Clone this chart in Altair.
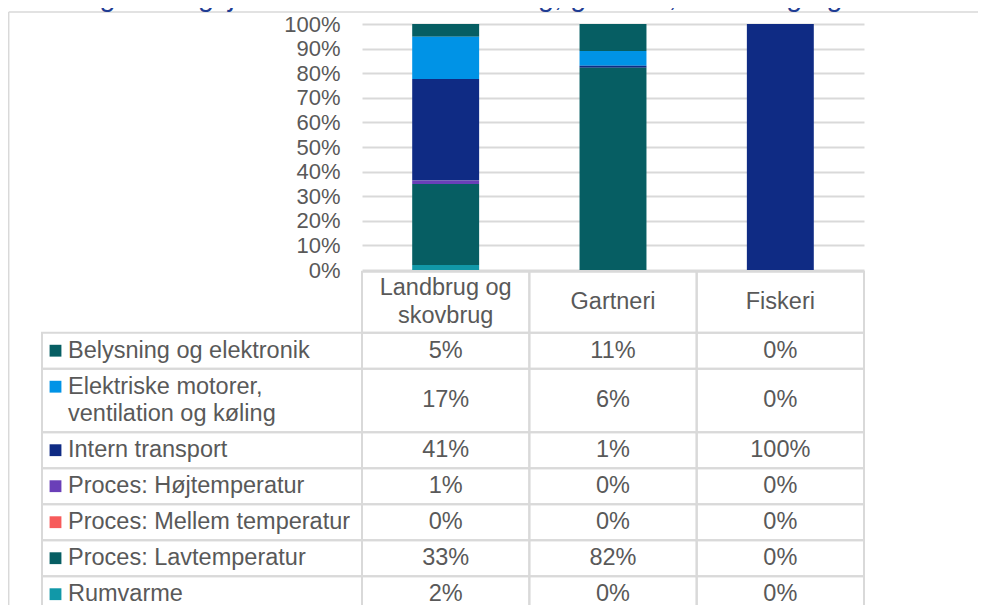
import altair as alt
import pandas as pd

# ---------------- data ----------------
categories = ["Landbrug og skovbrug", "Gartneri", "Fiskeri"]
header_lines = [["Landbrug og", "skovbrug"], ["Gartneri"], ["Fiskeri"]]

series = [
    "Belysning og elektronik",
    "Elektriske motorer, ventilation og køling",
    "Intern transport",
    "Proces: Højtemperatur",
    "Proces: Mellem temperatur",
    "Proces: Lavtemperatur",
    "Rumvarme",
]
series_lines = [
    ["Belysning og elektronik"],
    ["\u00a0Elektriske motorer,", "ventilation og køling"],
    ["Intern transport"],
    ["Proces: Højtemperatur"],
    ["Proces: Mellem temperatur"],
    ["Proces: Lavtemperatur"],
    ["Rumvarme"],
]
series_colors = ["#065e63", "#0093e6", "#0f2b84", "#6a3fb8", "#f75b5b", "#065e63", "#1198a8"]

# shares in percent, in series order
landbrug = [5.2, 17.2, 41.2, 1.4, 0.0, 33.0, 2.0]
gartneri = [11.0, 6.0, 0.8, 0.0, 0.0, 82.2, 0.0]
fiskeri = [0.0, 0.0, 100.0, 0.0, 0.0, 0.0, 0.0]

y_ticks = [0, 10, 20, 30, 40, 50, 60, 70, 80, 90, 100]
title_text = "forskellige energitjenester i 2020 i landbrug, gartneri, skovbrug og fiskeri"

values_by_category = dict(zip(categories, [landbrug, gartneri, fiskeri]))

# ---------------- style ----------------
FONT = "Liberation Sans"
TEXT_COLOR = "#595959"
LINE_COLOR = "#d9d9d9"
PLOT_W = 502
PLOT_H = 581
BAR_H = 246
TABLE_TOP = 247.7
HEADER_H = 61
LINE_H = 27.5
ROW_PAD = 8.5
LABEL_COL_W = 320
TEXT_SIZE = 23.5

# ---------------- tables for the marks ----------------
bar_rows = []
for cat in categories:
    for i, s in enumerate(series):
        bar_rows.append({"category": cat, "series": s,
                         "value": values_by_category[cat][i],
                         "stack_order": len(series) - i})
bar_df = pd.DataFrame(bar_rows)

row_bounds = []
top = HEADER_H
for lines in series_lines:
    h = ROW_PAD + LINE_H * len(lines)
    row_bounds.append((top, top + h))
    top += h
TOTAL = top

data_cells, label_cells, header_text, value_text, label_text, squares = [], [], [], [], [], []
for cat, lines in zip(categories, header_lines):
    data_cells.append({"category": cat, "top": 0, "bottom": HEADER_H})
    n = len(lines)
    for j, ln in enumerate(lines):
        header_text.append({"category": cat, "y": HEADER_H / 2 + (j - (n - 1) / 2) * LINE_H, "text": ln})

for i, (s, lines) in enumerate(zip(series, series_lines)):
    t, b = row_bounds[i]
    label_cells.append({"top": t, "bottom": b})
    for cat in categories:
        data_cells.append({"category": cat, "top": t, "bottom": b})
        value_text.append({"category": cat, "y": (t + b) / 2,
                           "text": f"{round(values_by_category[cat][i])}%"})
    for j, ln in enumerate(lines):
        label_text.append({"y": t + ROW_PAD / 2 + LINE_H * (j + 0.5), "text": ln})
    squares.append({"series": s, "y": t + ROW_PAD / 2 + LINE_H * 0.5})

x_scale = alt.Scale(domain=categories, paddingInner=0, paddingOuter=0)
color_scale = alt.Scale(domain=series, range=series_colors)
table_y = alt.Scale(domain=[0, TOTAL], range=[TABLE_TOP, TABLE_TOP + TOTAL])

bars = alt.Chart(bar_df).mark_bar(width=alt.RelativeBandSize(0.4)).encode(
    x=alt.X("category:N", scale=x_scale, axis=None),
    y=alt.Y("value:Q", stack="zero",
            scale=alt.Scale(domain=[0, 100], range=[BAR_H, 0]),
            axis=alt.Axis(values=y_ticks, labelExpr="datum.value + '%'", title=None,
                          domain=False, ticks=False, labelPadding=22,
                          labelFont=FONT, labelFontSize=22, labelColor=TEXT_COLOR,
                          grid=True, gridColor=LINE_COLOR, gridWidth=2)),
    color=alt.Color("series:N", scale=color_scale, legend=None),
    order=alt.Order("stack_order:Q"),
)

cells = alt.Chart(pd.DataFrame(data_cells)).mark_rect(
    fillOpacity=0, stroke=LINE_COLOR, strokeWidth=2).encode(
    x=alt.X("category:N", scale=x_scale, axis=None),
    y=alt.Y("top:Q", scale=table_y, axis=None),
    y2="bottom:Q",
)

lcells = alt.Chart(pd.DataFrame(label_cells)).mark_rect(
    fillOpacity=0, stroke=LINE_COLOR, strokeWidth=2).encode(
    x=alt.value(-LABEL_COL_W),
    x2=alt.value(0),
    y=alt.Y("top:Q", scale=table_y, axis=None),
    y2="bottom:Q",
)

txt_kw = dict(font=FONT, fontSize=TEXT_SIZE, color=TEXT_COLOR, baseline="middle")

htext = alt.Chart(pd.DataFrame(header_text)).mark_text(align="center", **txt_kw).encode(
    x=alt.X("category:N", scale=x_scale, axis=None),
    y=alt.Y("y:Q", scale=table_y, axis=None),
    text="text:N",
)
vtext = alt.Chart(pd.DataFrame(value_text)).mark_text(align="center", **txt_kw).encode(
    x=alt.X("category:N", scale=x_scale, axis=None),
    y=alt.Y("y:Q", scale=table_y, axis=None),
    text="text:N",
)
ltext = alt.Chart(pd.DataFrame(label_text)).mark_text(align="left", **txt_kw).encode(
    x=alt.value(-294),
    y=alt.Y("y:Q", scale=table_y, axis=None),
    text="text:N",
)
sq = alt.Chart(pd.DataFrame(squares)).mark_square(size=140, opacity=1).encode(
    x=alt.value(-306.5),
    y=alt.Y("y:Q", scale=table_y, axis=None),
    color=alt.Color("series:N", scale=color_scale, legend=None),
)

one = pd.DataFrame({"a": [0]})
border_left = alt.Chart(one).mark_rule(color=LINE_COLOR, strokeWidth=1.5).encode(
    x=alt.value(-353.3), y=alt.value(-12), y2=alt.value(PLOT_H + 20))
border_top = alt.Chart(one).mark_rule(color=LINE_COLOR, strokeWidth=1.5).encode(
    x=alt.value(-353.3), x2=alt.value(PLOT_W + 130), y=alt.value(-12))
title = alt.Chart(one).mark_text(
    align="left", baseline="alphabetic", font=FONT, fontSize=29,
    fontStyle="italic", color="#1f3c93").encode(
    x=alt.value(-359), y=alt.value(-18), text=alt.value(title_text))

chart = alt.layer(
    bars, cells, lcells, htext, vtext, ltext, sq, border_left, border_top, title
).resolve_scale(y="independent").properties(
    width=PLOT_W, height=PLOT_H,
    autosize=alt.AutoSizeParams(type="none"),
    padding={"left": 354, "top": 16, "right": 114, "bottom": 0},
).configure_view(stroke=None)

chart.save("out.html", embed_options={"renderer": "svg", "actions": False})
